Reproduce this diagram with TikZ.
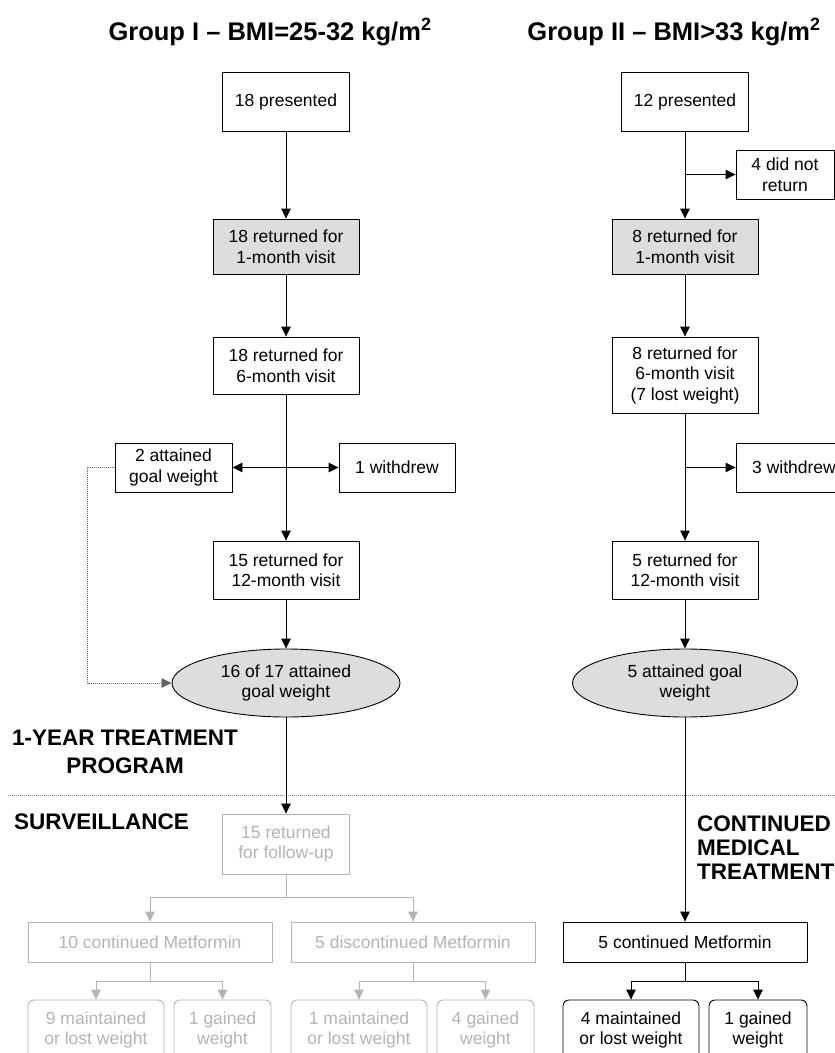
\documentclass[tikz,border=0pt]{standalone}
\usepackage{fontspec}
\setmainfont{Liberation Sans}
\usetikzlibrary{arrows.meta,shapes.geometric}
\definecolor{boxgray}{RGB}{221,221,221}
\definecolor{survgray}{RGB}{180,180,180}
\definecolor{dotgray}{RGB}{100,100,100}
\newcommand{\myBody}{\fontsize{17.5}{20.5}\selectfont}
\newcommand{\myHead}{\fontsize{22.5}{27}\selectfont\bfseries}
\newcommand{\myTitle}{\fontsize{25.5}{30}\selectfont\bfseries}
\begin{document}
\begin{tikzpicture}[x=1pt,y=-1pt,
  box/.style={draw, line width=0.9pt, fill=white, align=center, inner sep=0pt, font=\myBody},
  gbox/.style={box, fill=boxgray},
  ebox/.style={draw, line width=0.9pt, ellipse, fill=boxgray, align=center, inner sep=0pt, font=\myBody},
  sbox/.style={draw=survgray, line width=0.9pt, fill=white, align=center, inner sep=0pt, font=\myBody, text=survgray},
  rbox/.style={box, rounded corners=6pt},
  srbox/.style={sbox, rounded corners=6pt},
  arr/.style={-{Triangle[length=10pt,width=9.5pt]}, line width=0.9pt},
  arrb/.style={{Triangle[length=10pt,width=9.5pt]}-{Triangle[length=10pt,width=9.5pt]}, line width=0.9pt},
  ln/.style={line width=0.9pt},
  garr/.style={-{Triangle[length=10pt,width=9.5pt]}, line width=0.9pt, draw=survgray},
  gln/.style={line width=0.9pt, draw=survgray},
  dotln/.style={line width=0.8pt, draw=dotgray, dash pattern=on 1pt off 1pt, -{Triangle[length=10pt,width=9.5pt]}},
  divln/.style={line width=0.8pt, draw=gray, dash pattern=on 1pt off 1pt},
  head/.style={inner sep=0pt, font=\myHead},
  ttl/.style={inner sep=0pt, font=\myTitle, anchor=base}
]
\useasboundingbox (0,0) rectangle (835,1053);
\clip (0,0) rectangle (835,1053);

% titles
\node[ttl] (T1) at (270,40) {Group I -- BMI=25-32 kg/m\textsuperscript{2}};
\node[ttl] (T2) at (674,40) {Group II -- BMI>33 kg/m\textsuperscript{2}};

% left column
\node[box, minimum width=127pt, minimum height=59pt] (L1) at (286,101.5) {18 presented};
\node[gbox, minimum width=146pt, minimum height=55pt] (L2) at (286,246.5) {18 returned for\\1-month visit};
\node[box, minimum width=146pt, minimum height=57pt] (L3) at (286,365.5) {18 returned for\\6-month visit};
\node[box, minimum width=117pt, minimum height=49pt] (L4) at (173.5,467.5) {2 attained\\goal weight};
\node[box, minimum width=116pt, minimum height=49pt] (L5) at (397,467.5) {1 withdrew};
\node[box, minimum width=146pt, minimum height=58pt] (L6) at (286,570) {15 returned for\\12-month visit};
\node[ebox, minimum width=228pt, minimum height=68pt] (L7) at (286,683) {16 of 17 attained\\goal weight};

% right column
\node[box, minimum width=127pt, minimum height=59pt] (R1) at (685,101.5) {12 presented};
\node[box, minimum width=98pt, minimum height=49pt] (R5) at (785,174.5) {4 did not\\return};
\node[gbox, minimum width=146pt, minimum height=55pt] (R2) at (685,246.5) {8 returned for\\1-month visit};
\node[box, minimum width=146pt, minimum height=76pt] (R3) at (685,375) {8 returned for\\6-month visit\\(7 lost weight)};
\node[box, minimum width=116pt, minimum height=49pt] (R4) at (794,467.5) {3 withdrew};
\node[box, minimum width=146pt, minimum height=58pt] (R6) at (685,570) {5 returned for\\12-month visit};
\node[ebox, minimum width=225pt, minimum height=68pt] (R7) at (685,683) {5 attained goal\\weight};

% section labels
\node[head, anchor=base] (H1) at (125,745) {1-YEAR TREATMENT};
\node[head, anchor=base] (H2) at (125,773) {PROGRAM};
\draw[divln] (8,795.5) -- (835,795.5);
\node[head, anchor=base west] (H3) at (14,829) {SURVEILLANCE};
\node[head, anchor=base west] (H4) at (697,831) {CONTINUED};
\node[head, anchor=base west] (H5) at (697,855) {MEDICAL};
\node[head, anchor=base west] (H6) at (697,879) {TREATMENT};

% surveillance (grey)
\node[sbox, minimum width=127pt, minimum height=60pt] (L8) at (286,844) {15 returned\\for follow-up};
\node[sbox, minimum width=244pt, minimum height=40pt] (L9) at (150,942) {10 continued Metformin};
\node[sbox, minimum width=244pt, minimum height=40pt] (L10) at (413,942) {5 discontinued Metformin};
\node[srbox, minimum width=136pt, minimum height=60pt] (L11) at (96,1030) {9 maintained\\or lost weight};
\node[srbox, minimum width=97pt, minimum height=60pt] (L12) at (222.5,1030) {1 gained\\weight};
\node[srbox, minimum width=136pt, minimum height=60pt] (L13) at (359,1030) {1 maintained\\or lost weight};
\node[srbox, minimum width=97pt, minimum height=60pt] (L14) at (485.5,1030) {4 gained\\weight};

% continued medical treatment
\node[box, minimum width=244pt, minimum height=40pt] (R8) at (685,942) {5 continued Metformin};
\node[rbox, minimum width=136pt, minimum height=60pt] (R9) at (631,1030) {4 maintained\\or lost weight};
\node[rbox, minimum width=98pt, minimum height=60pt] (R10) at (758,1030) {1 gained\\weight};

% left connectors
\draw[arr] (L1.south) -- (L2.north);
\draw[arr] (L2.south) -- (L3.north);
\draw[arr] (L3.south) -- (L6.north);
\draw[arrb] (L4.east) -- (L5.west);
\draw[arr] (L6.south) -- (L7.north);
\draw[dotln] (L4.west) -- ++(-27,0) |- (L7.west);
\draw[arr] (L7.south) -- (L8.north);

% right connectors
\draw[arr] (R1.south) -- (R2.north);
\draw[arr] (R1.south |- R5.west) -- (R5.west);
\draw[arr] (R2.south) -- (R3.north);
\draw[arr] (R3.south) -- (R6.north);
\draw[arr] (R3.south |- R4.west) -- (R4.west);
\draw[arr] (R6.south) -- (R7.north);
\draw[arr] (R7.south) -- (R8.north);
\draw[ln] (R8.south) -- ++(0,19) coordinate (rb);
\draw[arr] (rb) -| (R9.north);
\draw[arr] (rb) -| (R10.north);

% surveillance connectors
\draw[gln] (L8.south) -- ++(0,23) coordinate (sb1);
\draw[garr] (sb1) -| (L9.north);
\draw[garr] (sb1) -| (L10.north);
\draw[gln] (L9.south) -- ++(0,19) coordinate (sb2);
\draw[garr] (sb2) -| (L11.north);
\draw[garr] (sb2) -| (L12.north);
\draw[gln] (L10.south) -- ++(0,19) coordinate (sb3);
\draw[garr] (sb3) -| (L13.north);
\draw[garr] (sb3) -| (L14.north);
\end{tikzpicture}
\end{document}
